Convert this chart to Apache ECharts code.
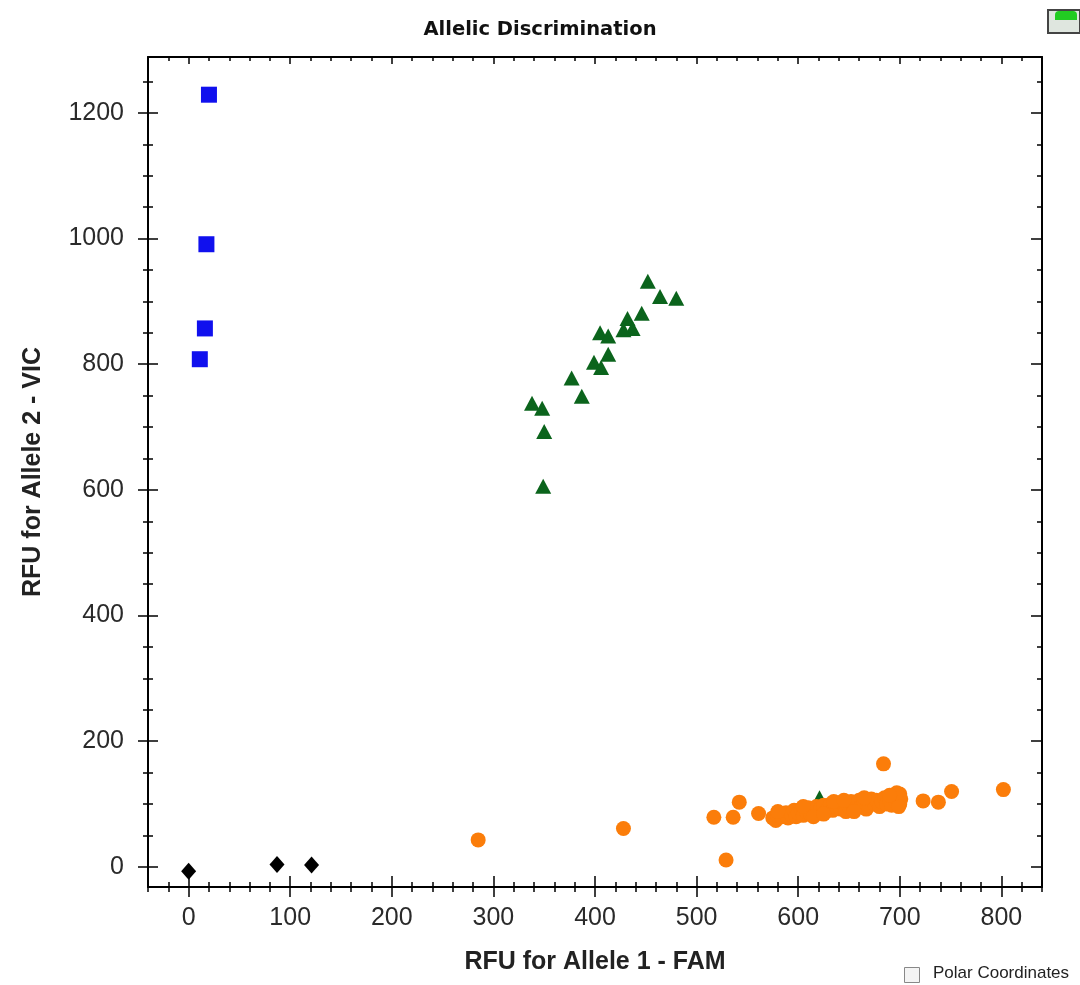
<!DOCTYPE html>
<html><head><meta charset="utf-8">
<script src="https://cdn.jsdelivr.net/npm/echarts@6/dist/echarts.min.js"></script>
<style>html,body{margin:0;padding:0;background:#fff}#c{width:1080px;height:985px}</style>
</head><body><div id="c"></div>
<script>
const chartTitle = 'Allelic Discrimination';
const xAxisTitle = 'RFU for Allele 1 - FAM';
const yAxisTitle = 'RFU for Allele 2 - VIC';
const checkboxLabel = 'Polar Coordinates';

const X_MIN = -40, X_MAX = 840;
const Y_MIN = -32, Y_MAX = 1289;

const xTickLabels = [0, 100, 200, 300, 400, 500, 600, 700, 800];
const xMinorTicks = [-40,-20,0,20,40,60,80,100,120,140,160,180,200,220,240,260,280,300,320,340,360,380,400,420,440,460,480,500,520,540,560,580,600,620,640,660,680,700,720,740,760,780,800,820,840];
const yTickLabels = [0, 200, 400, 600, 800, 1000, 1200];
const yMinorTicks = [0,50,100,150,200,250,300,350,400,450,500,550,600,650,700,750,800,850,900,950,1000,1050,1100,1150,1200,1250];

// Allele 2 homozygous (blue squares)
const allele2 = [[20,1229],[17.5,991],[16,857],[11,808]];
// No template control (black diamonds)
const ntc = [[0,-7],[87,4],[121,3]];
// Heterozygous (green triangles)
const heterozygous = [
  [452,932],[464,908],[480,905],[446,881],[432,873],[437,857],[428,855],
  [405,850],[413,845],[413,816],[399,803],[406,795],[377,778],[387,749],
  [338,738],[348,730],[350,693],[349,606],[621,110]
];
// Allele 1 homozygous (orange circles)
const allele1 = [
  [285,43],[428,61],[517,79],[529,11],[536,79],[542,103],[561,85],
  [684,164],[723,105],[738,103],[751,120],[802,123],
  [575,78],[578,74],[580,82],[584,80],[588,86],[590,78],[593,84],[596,90],
  [598,80],[600,86],[603,92],[605,82],[608,88],[610,94],[612,84],[615,90],
  [618,96],[620,86],[622,92],[625,98],[627,88],[630,94],[632,100],[634,90],
  [637,96],[640,102],[642,92],[645,98],[647,88],[650,96],[652,104],[655,94],
  [657,100],[660,106],[662,96],[665,102],[667,92],[670,98],[672,108],[675,100],
  [677,106],[680,96],[682,104],[685,110],[687,100],[690,106],[692,98],[694,112],
  [696,104],[698,110],[700,100],[700,116],[701,108],[699,96],[697,118],[605,96],
  [615,80],[635,104],[655,88],[645,106],[665,110],[690,114],[580,88],[625,84]
];

const FONT = '"Liberation Sans", Arial, sans-serif';
const lineStyle = {color:'#000', width:2};
const plain = v => String(v);

function xAx(pos, ticks, len, inside, labels, line, extra) {
  return Object.assign({
    type:'value', gridIndex:0, position:pos, min:X_MIN, max:X_MAX,
    axisLine:{show:line, onZero:false, lineStyle},
    axisTick:{show:true, inside, length:len, customValues:ticks, lineStyle:{color:'#000', width:1.5}},
    axisLabel: labels ? {show:true, customValues:labels, formatter:plain, margin:19, fontSize:25, color:'#2a2a2a', fontFamily:FONT} : {show:false},
    splitLine:{show:false}
  }, extra||{});
}
function yAx(pos, ticks, len, inside, labels, line, extra) {
  return Object.assign({
    type:'value', gridIndex:0, position:pos, min:Y_MIN, max:Y_MAX,
    axisLine:{show:line, onZero:false, lineStyle},
    axisTick:{show:true, inside, length:len, customValues:ticks, lineStyle:{color:'#000', width:1.5}},
    axisLabel: labels ? {show:true, customValues:labels, formatter:plain, margin:24, fontSize:25, color:'#2a2a2a', fontFamily:FONT} : {show:false},
    splitLine:{show:false}
  }, extra||{});
}

const option = {
  backgroundColor:'#fff',
  animation:false,
  title:{text:chartTitle, left:'center', top:15,
    textStyle:{fontFamily:'"DejaVu Sans", sans-serif', fontWeight:'bold', fontSize:19.5, color:'#111'}},
  grid:{left:148, right:38, top:57, bottom:98, containLabel:false},
  xAxis:[
    xAx('bottom', xTickLabels, 10, false, xTickLabels, true, {
      name:xAxisTitle, nameLocation:'middle', nameGap:63,
      nameTextStyle:{fontFamily:FONT, fontWeight:'bold', fontSize:25, color:'#222'}}),
    xAx('bottom', xTickLabels, 11, true, null, false),
    xAx('bottom', xMinorTicks, 5, false, null, false),
    xAx('bottom', xMinorTicks, 5, true, null, false),
    xAx('top', xTickLabels, 7, true, null, true),
    xAx('top', xMinorTicks, 4, true, null, false)
  ],
  yAxis:[
    yAx('left', yTickLabels, 10, false, yTickLabels, true, {
      name:yAxisTitle, nameLocation:'middle', nameGap:102,
      nameTextStyle:{fontFamily:FONT, fontWeight:'bold', fontSize:25, color:'#222'}}),
    yAx('left', yTickLabels, 10, true, null, false),
    yAx('left', yMinorTicks, 5, false, null, false),
    yAx('left', yMinorTicks, 5, true, null, false),
    yAx('right', yTickLabels, 11, true, null, true),
    yAx('right', yMinorTicks, 5, true, null, false)
  ],
  series:[
    {type:'scatter', name:'Heterozygous', data:heterozygous, symbol:'triangle', symbolSize:[16,15],
      itemStyle:{color:'#0b641c', opacity:1}},
    {type:'scatter', name:'Allele 1', data:allele1, symbol:'circle', symbolSize:15,
      itemStyle:{color:'#fb7d0a', opacity:1}},
    {type:'scatter', name:'Allele 2', data:allele2, symbol:'rect', symbolSize:16,
      itemStyle:{color:'#1010ee', opacity:1}},
    {type:'scatter', name:'NTC', data:ntc, symbol:'diamond', symbolSize:[15,17],
      itemStyle:{color:'#000', opacity:1}}
  ],
  graphic:[
    {type:'rect', left:904, top:967, shape:{width:15, height:15},
      style:{fill:'#f4f4f4', stroke:'#888', lineWidth:1}},
    {type:'text', left:933, top:965, style:{text:checkboxLabel, fontFamily:FONT, fontSize:17, fill:'#222'}},
    {type:'rect', left:1047, top:9, shape:{width:32, height:23},
      style:{fill:'#dfe6df', stroke:'#444', lineWidth:2}},
    {type:'rect', left:1055, top:11, shape:{width:22, height:9, r:[4,4,0,0]},
      style:{fill:'#22cc22'}}
  ]
};
const chart = echarts.init(document.getElementById('c'), null, {renderer:'canvas'});
chart.setOption(option);
</script></body></html>
